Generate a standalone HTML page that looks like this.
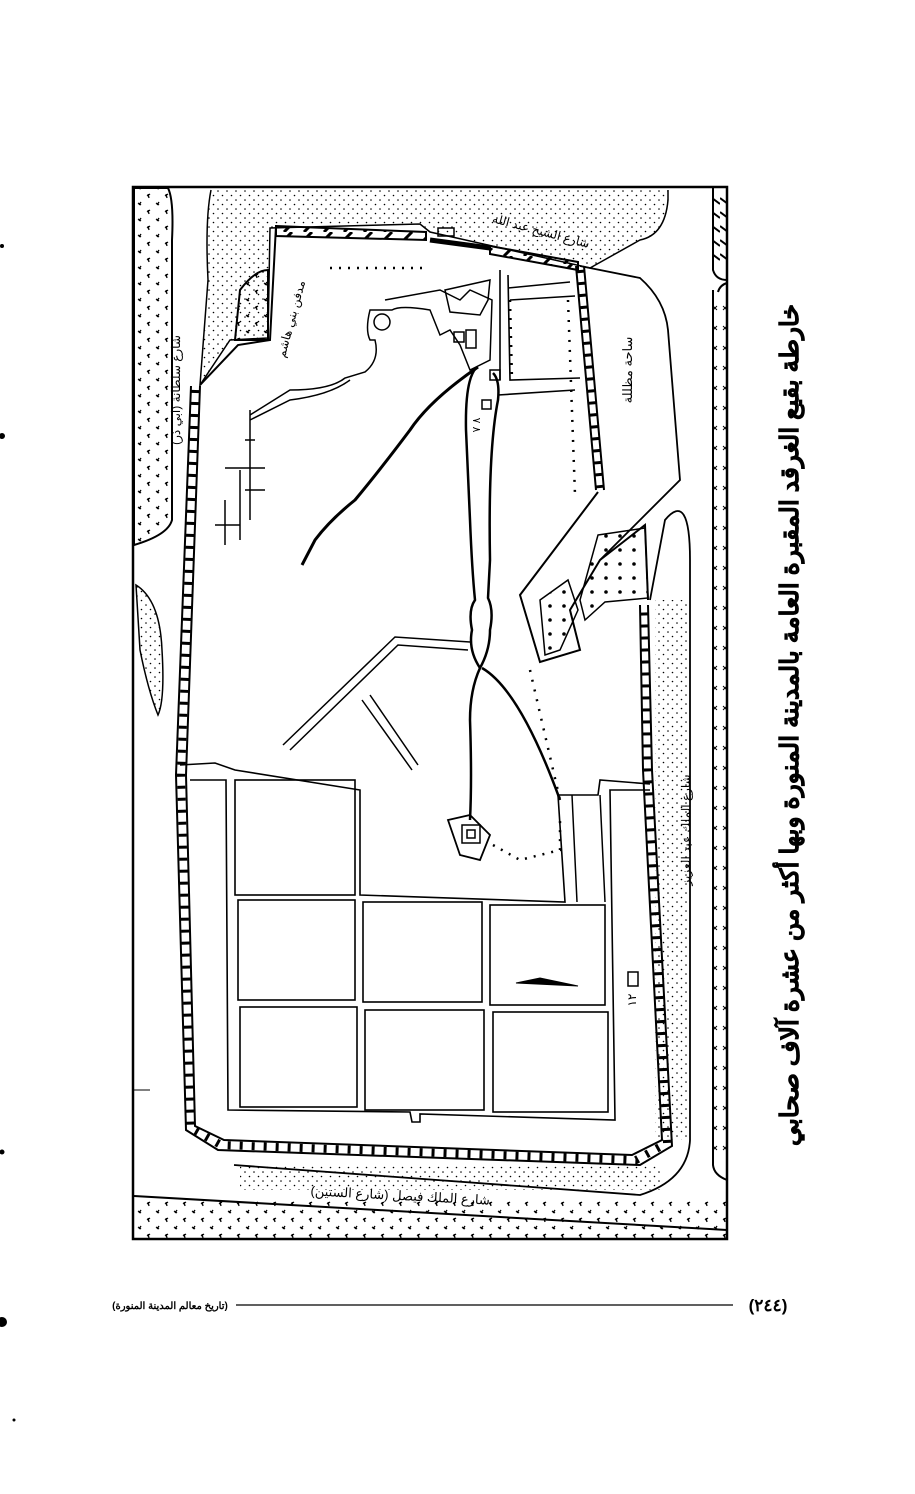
<!DOCTYPE html>
<html><head><meta charset="utf-8"><style>
html,body{margin:0;padding:0;background:#fff;}
svg{display:block}
</style></head><body>
<svg width="915" height="1494" viewBox="0 0 915 1494" xmlns="http://www.w3.org/2000/svg" font-family="'Liberation Sans','Noto Sans CJK SC',sans-serif">
<defs>
<pattern id="dots" width="9" height="9" patternUnits="userSpaceOnUse"><circle cx="2" cy="2" r="0.8" fill="#000"/><circle cx="6.5" cy="6.5" r="0.8" fill="#000"/></pattern>
<pattern id="bigdots" width="14" height="14" patternUnits="userSpaceOnUse"><circle cx="4" cy="4" r="1.8" fill="#000"/></pattern>
<pattern id="stars" width="18" height="16" patternUnits="userSpaceOnUse"><path d="M3 4 l3 -2 M4 2 l1 4 M12 11 l3 2 M13 13 l2 -3" stroke="#000" stroke-width="1.3"/></pattern>
<pattern id="xs" width="10" height="20" patternUnits="userSpaceOnUse"><path d="M3 6 l4 4 M7 6 l-4 4" stroke="#000" stroke-width="1"/></pattern>
<pattern id="hatchV" width="8" height="14" patternUnits="userSpaceOnUse"><path d="M0 2 L8 8" stroke="#000" stroke-width="2"/></pattern>
<pattern id="hatchH" width="20" height="8" patternUnits="userSpaceOnUse"><path d="M4 8 L12 0" stroke="#000" stroke-width="3"/></pattern>
</defs>
<g fill="none" stroke="#000" stroke-width="2">
<rect x="133" y="187" width="594" height="1052" stroke-width="2.5"/>
<path d="M134 188 L168 188 Q174 200 172 240 L172 520 Q168 535 134 545 Z" fill="url(#stars)"/>
<path d="M136 585 Q160 600 162 650 Q165 700 158 715 Q148 690 140 650 Z" fill="url(#dots)" stroke-width="1.5"/>
<path d="M134 1090 L150 1090" stroke-width="1"/>
<path d="M211 190 Q205 220 208 280 L200 385 L230 340 L268 338 L270 228 L420 224 L430 232 L590 268 L640 240 Q665 235 668 200 L668 190" fill="url(#dots)" stroke-width="1.5"/>
<path d="M240 290 Q255 270 268 270 L268 340 L235 340 Z" fill="url(#stars)"/>
<path d="M276 226 L426 232 L426 240 L276 236 Z" fill="url(#hatchH)"/>
<path d="M490 246 L578 262 L578 270 L490 254 Z" fill="url(#hatchH)"/>
<path d="M430 240 L490 248" stroke-width="5"/>
<rect x="438" y="228" width="16" height="8" stroke-width="1.5"/>
<path d="M276 226 L270 340 L238 345 L200 385"/>
<!-- walls -->
<path d="M191 386 L176 775 L186 1130 L218 1150 L640 1165 L672 1146 L652 770 L648 605" />
<path d="M200 386 L186 775 L195 1126 L224 1140 L632 1155 L662 1140 L643 770 L640 605" />
<path d="M195.5 390 L181 775 L190.5 1128 L221 1145 L636 1160 L667 1143 L647.5 770 L644 608" stroke-width="8" stroke-dasharray="3 9"/>
<path d="M576 266 L596 490 M584 266 L604 490"/>
<path d="M580 270 L600 488" stroke-width="8" stroke-dasharray="3 9"/>
<path d="M580 266 L640 278 Q665 300 668 330 L680 480 L600 560 M650 600 L665 520 Q690 490 690 560 L690 1140 Q688 1180 640 1195 L234 1165" stroke-width="1.8"/>
<rect x="655" y="600" width="32" height="540" fill="url(#dots)" stroke="none"/>
<path d="M713 290 L713 1165 Q714 1175 727 1180 M718 292 Q720 285 727 283" stroke-width="2"/>
<rect x="714" y="300" width="12" height="860" fill="url(#xs)" stroke="none"/>
<path d="M713 188 L713 270 Q716 280 727 280" stroke-width="2"/>
<rect x="714" y="195" width="12" height="70" fill="url(#hatchV)" stroke="none"/>
<path d="M598 492 L520 595 L540 662 L580 650 L570 610 L600 560 L645 525 L648 600"/>
<path d="M598 535 L645 528 L648 598 L605 602 L585 620 L580 600 Z" fill="url(#bigdots)" stroke-width="1.5"/>
<path d="M540 600 L568 580 L578 610 L560 650 L545 655 Z" fill="url(#bigdots)" stroke-width="1.5"/>
<path d="M500 270 L500 380 M508 275 L510 380 L580 378" stroke-width="1.6"/>
<path d="M508 288 L570 282 M510 300 L575 296" stroke-width="1.5"/>
<path d="M510 300 L512 380" stroke-width="2.5" stroke-dasharray="2 7"/>
<path d="M568 300 L575 495" stroke-width="2.5" stroke-dasharray="2 8"/>
<path d="M330 268 L425 268" stroke-width="2.5" stroke-dasharray="2 7"/>
<path d="M530 670 L560 800" stroke-width="2.5" stroke-dasharray="2 8"/>
<path d="M498 395 L575 390" stroke-width="1.6"/>
<path d="M385 300 L440 290 L460 300 L470 290 L492 300 L490 360 L470 370 L460 345 L450 330 L440 335 L430 310 Q400 305 392 310 L370 310 Q365 330 370 340 L375 340 Q380 360 365 372 L345 378 Q330 390 290 390 L250 415" stroke-width="1.5"/>
<path d="M250 420 L290 400 Q330 395 350 380" stroke-width="1.5"/>
<circle cx="382" cy="322" r="8" stroke-width="1.5"/>
<path d="M445 290 L490 280 L488 300 L480 315 L450 312 Z" stroke-width="1.5"/>
<rect x="454" y="332" width="10" height="10" stroke-width="1.5"/>
<rect x="466" y="330" width="10" height="18" stroke-width="1.5"/>
<rect x="490" y="370" width="10" height="10" stroke-width="1.5"/>
<rect x="482" y="400" width="9" height="9" stroke-width="1.5"/>
<path d="M215 525 L240 525 M225 500 L225 545 M240 470 L240 540 M225 468 L265 468 M245 490 L265 490 M250 410 L250 520 M245 440 L255 440" stroke-width="1.5"/>
<path d="M478 367 Q430 400 410 430 Q380 470 355 500 Q330 520 315 540 L302 565" stroke-width="3"/>
<path d="M476 368 Q465 380 466 430 L470 520 Q472 570 475 600 Q468 610 472 630 Q468 650 480 668 Q490 650 490 630 Q494 610 488 598 L490 560 Q488 450 498 400 Q500 380 493 373" stroke-width="2.5"/>
<path d="M480 668 Q470 690 470 720 Q472 780 470 820 M482 668 Q520 690 560 800" stroke-width="2.5"/>
<path d="M283 745 L395 637 L470 642 M290 750 L398 645 L468 650 M362 700 L412 770 M370 695 L418 765" stroke-width="1.5"/>
<path d="M448 820 L470 815 L490 835 L480 860 L460 855 Z" stroke-width="1.8"/>
<rect x="462" y="825" width="18" height="18" stroke-width="1.5"/>
<rect x="467" y="830" width="8" height="8" stroke-width="1.5"/>
<path d="M493 845 L520 860 L560 850 L560 820" stroke-width="2.5" stroke-dasharray="2 7"/>
<path d="M180 765 L215 763 L235 770 L360 790 L360 895 L565 902 L558 795 L598 795 L600 780 L650 784" stroke-width="1.6"/>
<path d="M190 780 L226 780 L228 1110 L410 1112 L412 1122 L420 1122 L420 1114 L615 1120 L610 790 L650 790" stroke-width="1.6"/>
<path d="M572 795 L577 902 M600 795 L605 902" stroke-width="1.5"/>
<rect x="235" y="780" width="120" height="115" stroke-width="1.6"/>
<rect x="238" y="900" width="117" height="100" stroke-width="1.6"/>
<rect x="363" y="902" width="119" height="100" stroke-width="1.6"/>
<rect x="490" y="905" width="115" height="100" stroke-width="1.6"/>
<rect x="240" y="1007" width="117" height="100" stroke-width="1.6"/>
<rect x="365" y="1010" width="119" height="100" stroke-width="1.6"/>
<rect x="493" y="1012" width="115" height="100" stroke-width="1.6"/>
<path d="M516 983 L578 986 L540 978 Z" fill="#000" stroke-width="1"/>
<rect x="628" y="972" width="10" height="14" stroke-width="1.5"/>
<path d="M134 1196 L727 1230" stroke-width="2"/>
<rect x="134" y="1200" width="592" height="38" fill="url(#stars)" stroke="none"/>
<rect x="240" y="1165" width="420" height="25" fill="url(#dots)" stroke="none"/>
</g>
<g font-size="12" fill="#000" font-family="'Liberation Sans','Noto Sans CJK SC',sans-serif">
<text x="400" y="1200" text-anchor="middle" transform="rotate(3 400 1200)" font-size="13">شارع الملك فيصل (شارع الستين)</text>
<text transform="translate(690 830) rotate(-90)" font-size="12" text-anchor="middle">شارع الملك عبد العزيز</text>
<text transform="translate(632 370) rotate(-90)" font-size="13" text-anchor="middle">ساحة مظللة</text>
<text transform="translate(180 390) rotate(-90)" font-size="12" text-anchor="middle">شارع سلطانة (ابي ذر)</text>
<text transform="translate(295 320) rotate(-75)" font-size="12" text-anchor="middle">مدفن بني هاشم</text>
<text transform="translate(540 235) rotate(15)" font-size="12" text-anchor="middle">شارع الشيخ عبد الله</text>
<text transform="translate(636 1000) rotate(-90)" font-size="12" text-anchor="middle">١٢</text>
<text transform="translate(480 425) rotate(-90)" font-size="11" text-anchor="middle">٨ ٧</text>
</g>
<text transform="translate(798 725) rotate(-90)" text-anchor="middle" font-size="25" font-weight="bold" stroke="#000" stroke-width="0.6" font-family="'Liberation Sans','Noto Sans CJK SC',sans-serif" fill="#000">خارطة بقيع الغرقد المقبرة العامة بالمدينة المنورة وبها أكثر من عشرة آلاف صحابي</text>
<line x1="236" y1="1305" x2="733" y2="1305" stroke="#000" stroke-width="1.2"/>
<text x="768" y="1311" text-anchor="middle" font-size="17" font-weight="bold" font-family="'Liberation Sans','Noto Sans CJK SC',sans-serif">(٢٤٤)</text>
<text x="170" y="1309" text-anchor="middle" font-size="10" font-weight="bold" font-family="'Liberation Sans','Noto Sans CJK SC',sans-serif">(تاريخ معالم المدينة المنورة)</text>
<circle cx="2" cy="246" r="2" fill="#000"/>
<circle cx="2" cy="436" r="3" fill="#000"/>
<circle cx="2" cy="1152" r="2.5" fill="#000"/>
<circle cx="2" cy="1322" r="5" fill="#000"/>
<circle cx="14" cy="1420" r="1.5" fill="#000"/>
</svg>
</body></html>
